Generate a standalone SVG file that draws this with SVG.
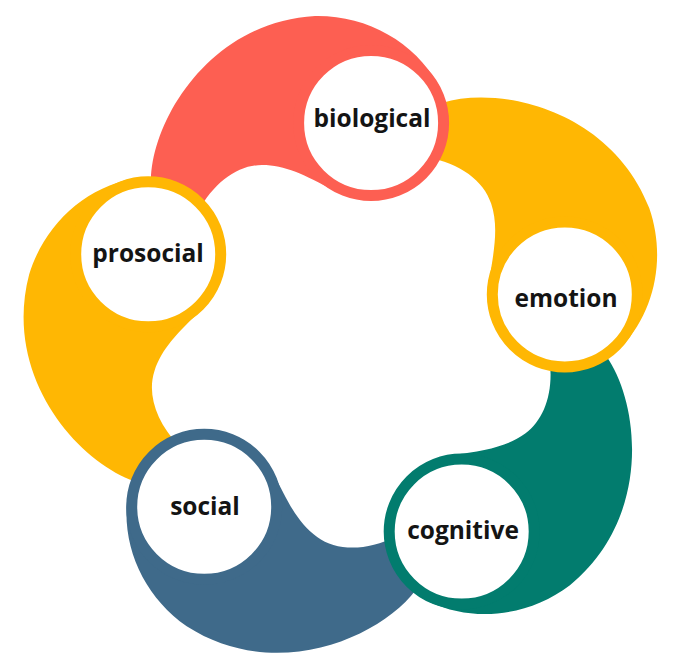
<svg xmlns="http://www.w3.org/2000/svg" width="693" height="668" viewBox="0 0 693 668">
  <defs>
    <style>
      .red{fill:#FD5F52}
      .yel{fill:#FFB703}
      .grn{fill:#027C6E}
      .blu{fill:#3F6A8A}
      .ring{fill:#FFFFFF;stroke-width:11}
      .r-red{stroke:#FD5F52}
      .r-yel{stroke:#FFB703}
      .r-grn{stroke:#027C6E}
      .r-blu{stroke:#3F6A8A}
      .lbl{font-family:"Open Sans","Noto Sans","DejaVu Sans",sans-serif;font-weight:700;font-size:24.5px;fill:#141414;text-anchor:middle}
    </style>
    <path id="blob" d="M 148.2,254.3 L 151,180 C 152,120 210,22 315,16 C 366,15 414,41.2 438.5,85 L 371.1,123 L 335,191 C 304.1,174.6 285,165 262,165 C 238,165 214,182 198,212 Z"/>
  </defs>
  <rect width="693" height="668" fill="#FFFFFF"/>
  <g id="connectors">
    <use href="#blob" class="red"/>
    <use href="#blob" class="yel" transform="rotate(72 350 342)"/>
    <use href="#blob" class="grn" transform="rotate(144 350 342)"/>
    <use href="#blob" class="blu" transform="rotate(216 350 342)"/>
    <use href="#blob" class="yel" transform="rotate(288 350 342)"/>
  </g>
  <g id="biological">
    <circle class="ring r-red" cx="371.1" cy="123" r="72.5"/>
    <text class="lbl" x="372" y="127">biological</text>
  </g>
  <g id="emotion">
    <circle class="ring r-yel" cx="564.8" cy="294.4" r="72.5"/>
    <text class="lbl" x="566" y="307">emotion</text>
  </g>
  <g id="cognitive">
    <circle class="ring r-grn" cx="461.7" cy="531.6" r="72.5"/>
    <text class="lbl" x="463" y="539">cognitive</text>
  </g>
  <g id="social">
    <circle class="ring r-blu" cx="204.2" cy="506.8" r="72.5"/>
    <text class="lbl" x="205" y="515">social</text>
  </g>
  <g id="prosocial">
    <circle class="ring r-yel" cx="148.2" cy="254.3" r="72.5"/>
    <text class="lbl" x="148" y="262">prosocial</text>
  </g>
</svg>
